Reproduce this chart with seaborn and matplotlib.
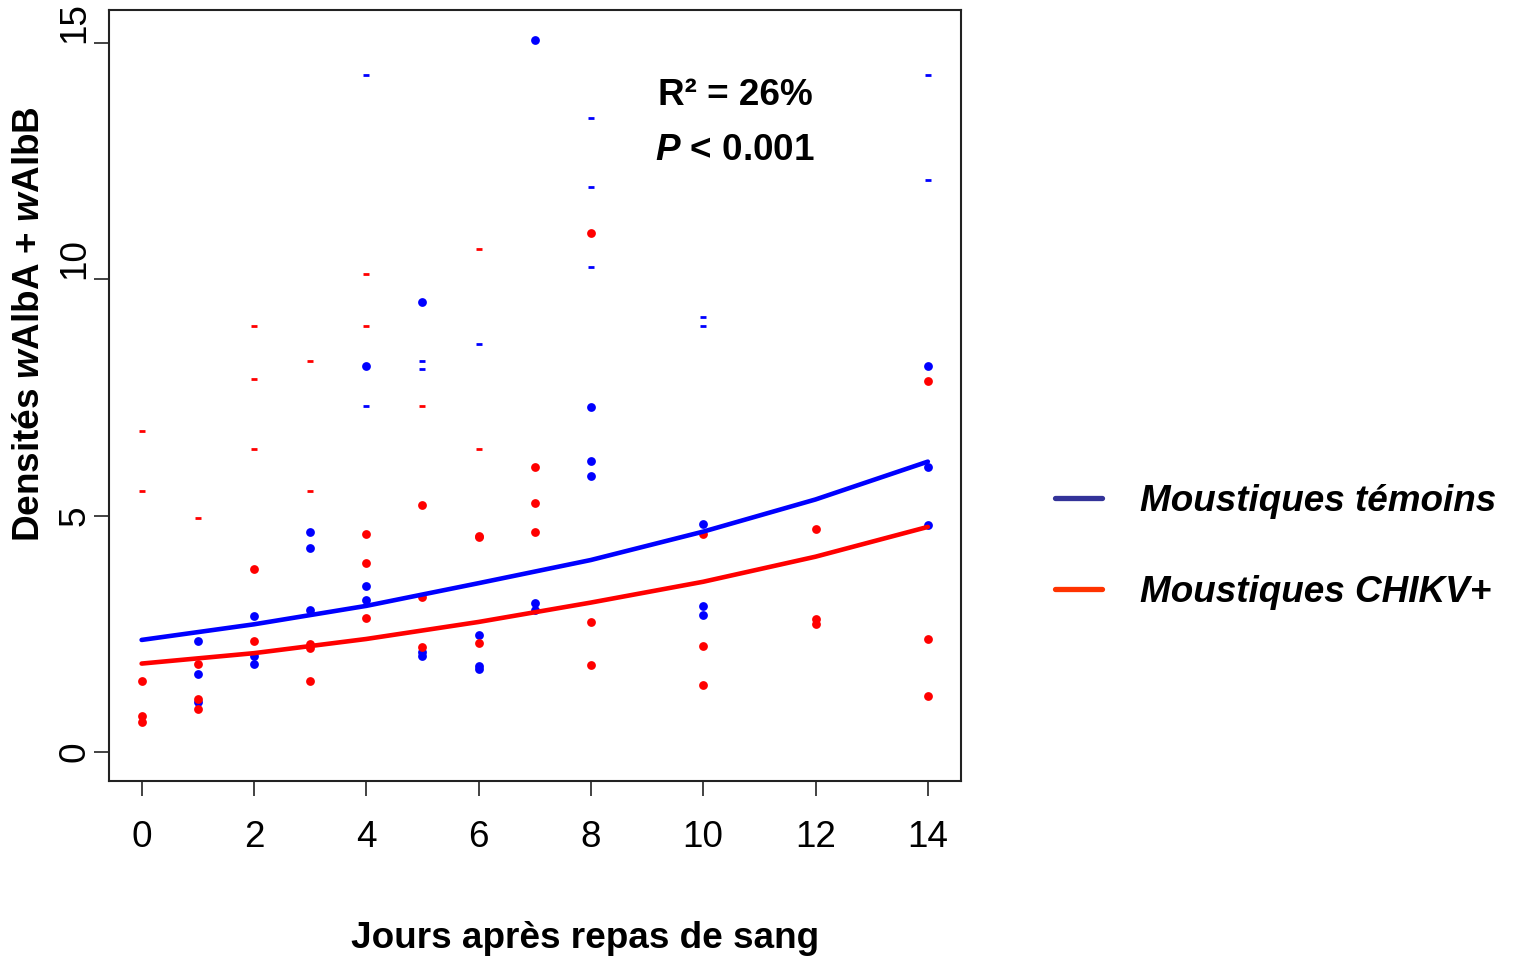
import matplotlib
matplotlib.use("Agg")
import matplotlib.pyplot as plt
from matplotlib.lines import Line2D
import seaborn as sns
import pandas as pd

# ---------------- data ----------------
# Moustiques témoins (blue), solid dots
temoins_days = [1, 1, 1, 2, 2, 2, 3, 3, 3, 4, 4, 4, 5, 5, 5, 6, 6, 6,
                7, 7, 7, 8, 8, 8, 10, 10, 10, 14, 14, 14]
temoins_vals = [2.35, 1.66, 1.06, 2.88, 2.03, 1.87, 4.65, 4.31, 3.00,
                8.17, 3.52, 3.21, 9.51, 2.12, 2.03, 2.47, 1.82, 1.75,
                15.06, 3.16, 3.00, 7.30, 6.15, 5.83, 4.83, 3.09, 2.90,
                8.17, 6.02, 4.81]
# Moustiques témoins, points drawn as small dashes
temoins_dash_days = [4, 4, 5, 5, 6, 8, 8, 8, 10, 10, 14, 14]
temoins_dash_vals = [14.32, 7.32, 8.27, 8.10, 8.63, 13.41, 11.95, 10.26,
                     9.20, 9.01, 14.32, 12.09]

# Moustiques CHIKV+ (red), solid dots
chikv_days = [0, 0, 0, 1, 1, 1, 2, 2, 3, 3, 3, 4, 4, 4, 5, 5, 5, 6, 6, 6,
              7, 7, 7, 8, 8, 8, 10, 10, 10, 12, 12, 12, 14, 14, 14]
chikv_vals = [1.50, 0.76, 0.63, 1.87, 1.13, 0.90, 3.87, 2.35, 2.28, 2.19,
              1.50, 4.62, 4.00, 2.84, 5.22, 3.28, 2.21, 4.57, 4.54, 2.31,
              6.02, 5.27, 4.65, 10.98, 2.75, 1.85, 4.62, 2.25, 1.41,
              4.71, 2.82, 2.71, 7.84, 2.40, 1.19]
# Moustiques CHIKV+, points drawn as small dashes
chikv_dash_days = [0, 0, 1, 2, 2, 2, 3, 3, 4, 4, 5, 6, 6]
chikv_dash_vals = [6.79, 5.52, 4.95, 9.01, 7.89, 6.41, 8.27, 5.52, 10.11,
                   9.01, 7.32, 10.64, 6.41]

# fitted curves
fit_days = [0, 2, 4, 6, 8, 10, 12, 14]
fit_temoins = [2.37, 2.70, 3.09, 3.57, 4.06, 4.66, 5.34, 6.14]
fit_chikv = [1.87, 2.09, 2.39, 2.75, 3.16, 3.60, 4.13, 4.76]

x_ticks = [0, 2, 4, 6, 8, 10, 12, 14]
y_ticks = [0, 5, 10, 15]
legend_labels = ["Moustiques témoins", "Moustiques CHIKV+"]
stats_lines = ["R² = 26%", r"$\mathit{P}$ < 0.001"]
x_title = "Jours après repas de sang"
y_title = r"Densités $\mathit{w}$AlbA + $\mathit{w}$AlbB"

# ---------------- style ----------------
sns.set_theme(style="ticks")
plt.rcParams["font.family"] = ["Liberation Sans", "DejaVu Sans"]
plt.rcParams["mathtext.fontset"] = "custom"
plt.rcParams["mathtext.rm"] = "Liberation Sans:bold"
plt.rcParams["mathtext.bf"] = "Liberation Sans:bold"
plt.rcParams["mathtext.it"] = "Liberation Sans:bold:italic"
plt.rcParams["text.color"] = "black"

FS = 26.6
BLUE = "#0000ff"
RED = "#ff0000"

fig = plt.figure(figsize=(15.18, 9.59), dpi=100)
ax = fig.add_axes([0.0721, 0.1859, 0.6329 - 0.0721, 0.9896 - 0.1859])

df_t = pd.DataFrame({"jour": temoins_days, "val": temoins_vals})
df_c = pd.DataFrame({"jour": chikv_days, "val": chikv_vals})
df_td = pd.DataFrame({"jour": temoins_dash_days, "val": temoins_dash_vals})
df_cd = pd.DataFrame({"jour": chikv_dash_days, "val": chikv_dash_vals})
df_ft = pd.DataFrame({"jour": fit_days, "val": fit_temoins})
df_fc = pd.DataFrame({"jour": fit_days, "val": fit_chikv})

sns.scatterplot(data=df_t, x="jour", y="val", ax=ax, color=BLUE, s=40,
                linewidth=0, zorder=3)
sns.scatterplot(data=df_c, x="jour", y="val", ax=ax, color=RED, s=40,
                linewidth=0, zorder=3)
sns.scatterplot(data=df_td, x="jour", y="val", ax=ax, color=BLUE, marker="_",
                s=22, linewidth=2.0, zorder=3)
sns.scatterplot(data=df_cd, x="jour", y="val", ax=ax, color=RED, marker="_",
                s=22, linewidth=2.0, zorder=3)
sns.lineplot(data=df_ft, x="jour", y="val", ax=ax, color=BLUE, linewidth=3.3,
             zorder=4)
sns.lineplot(data=df_fc, x="jour", y="val", ax=ax, color=RED, linewidth=3.3,
             zorder=4)

ax.set_xlim(-0.573, 14.586)
ax.set_ylim(-0.607, 15.69)
ax.set_xticks(x_ticks)
ax.set_xticklabels([str(v) for v in x_ticks])
ax.set_yticks(y_ticks)
ax.set_yticklabels([str(v) for v in y_ticks])

for sp in ax.spines.values():
    sp.set_visible(True)
    sp.set_color("#222222")
    sp.set_linewidth(1.5)

ax.tick_params(axis="both", direction="out", length=10.5, width=1.2,
               color="#222222", labelsize=FS, labelcolor="black")
ax.tick_params(axis="x", pad=18)
ax.tick_params(axis="y", pad=2)
for lab in ax.get_yticklabels():
    lab.set_rotation(90)
    if len(lab.get_text()) > 1:
        lab.set_va("bottom")
    else:
        lab.set_va("center")

ax.set_xlabel(x_title, fontsize=FS, fontweight="bold", color="black")
ax.xaxis.set_label_coords(0.5586, -0.2171)
ax.xaxis.label.set_va("baseline")
ax.set_ylabel(y_title, fontsize=FS, fontweight="bold", color="black")
ax.yaxis.set_label_coords(-0.0934, 0.5926)
ax.yaxis.label.set_va("center")

ax.text(0.735, 0.8767, stats_lines[0], transform=ax.transAxes, ha="center",
        va="baseline", fontsize=FS, fontweight="bold", color="black")
ax.text(0.735, 0.8054, stats_lines[1], transform=ax.transAxes, ha="center",
        va="baseline", fontsize=FS, fontweight="bold", color="black")

handles = [Line2D([0], [0], color="#333399", linewidth=3.8),
           Line2D([0], [0], color="#ff3300", linewidth=3.8)]
ax.legend(handles, legend_labels, loc="center left",
          bbox_to_anchor=(0.695, 0.4296), bbox_transform=fig.transFigure,
          frameon=False, handlelength=1.27, handletextpad=1.03,
          labelspacing=1.5, borderpad=0, borderaxespad=0, labelcolor="black",
          prop={"family": "Liberation Sans", "weight": "bold",
                "style": "italic", "size": FS})

fig.savefig("out.png", dpi=100)
